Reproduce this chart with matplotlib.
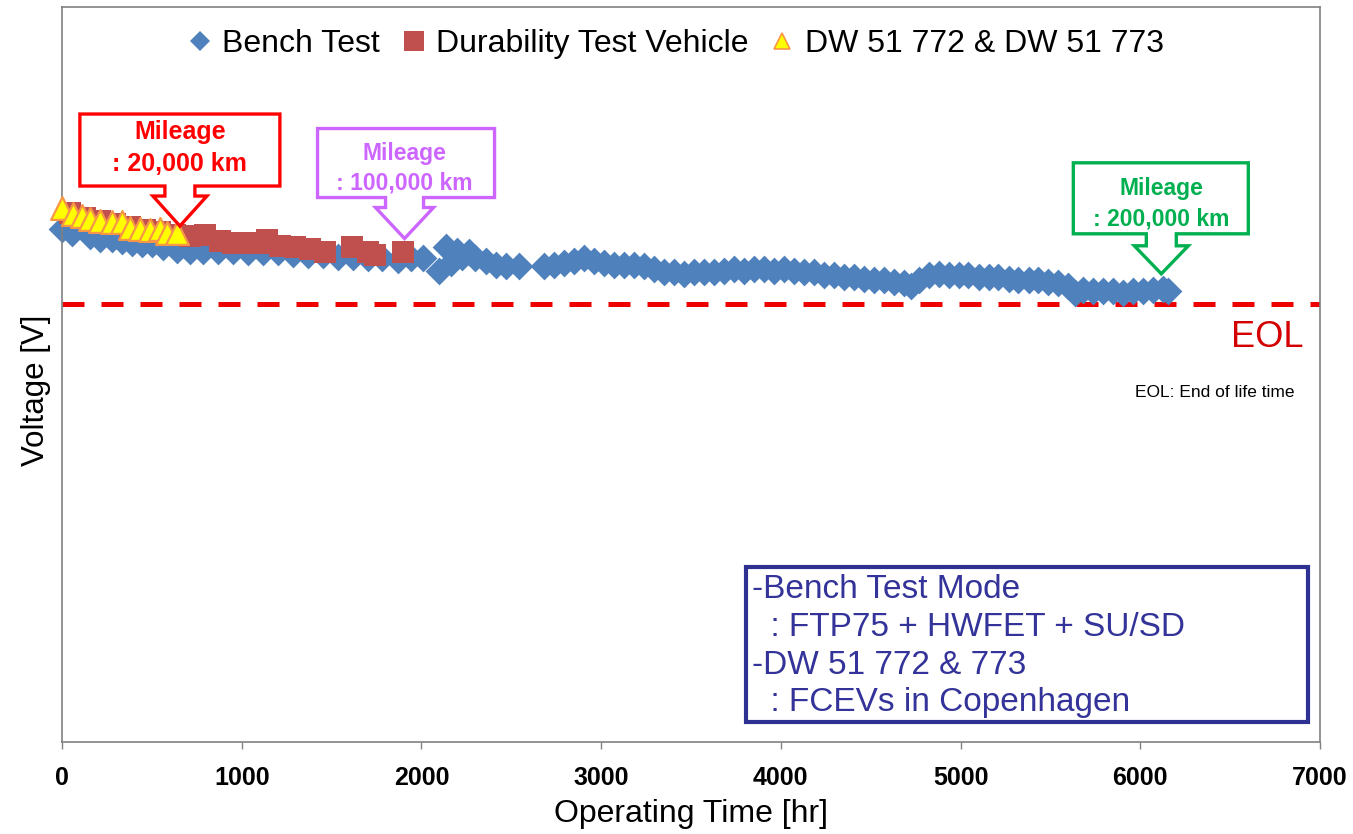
import numpy as np
import matplotlib
matplotlib.use("Agg")
import matplotlib.pyplot as plt
from matplotlib.patches import Polygon, Rectangle
from matplotlib.lines import Line2D
from matplotlib.transforms import IdentityTransform

plt.rcParams["font.family"] = ["Liberation Sans", "DejaVu Sans"]

# --- Data (operating hours, stack voltage in relative units) ---
bench_hr = [0, 56, 156, 211, 278, 333, 389, 444, 500, 561, 639, 711, 783, 867,
            950, 1033, 1117, 1200, 1283, 1367, 1450, 1533, 1617, 1700, 1783,
            1867, 1944, 2011, 2100, 2139, 2167, 2200, 2228, 2267, 2300, 2361,
            2417, 2472, 2544, 2683, 2739, 2794, 2850, 2906, 2961, 3017, 3072,
            3128, 3183, 3239, 3294, 3350, 3406, 3461, 3517, 3572, 3628, 3683,
            3739, 3794, 3850, 3906, 3961, 4017, 4072, 4128, 4183, 4239, 4294,
            4350, 4406, 4461, 4517, 4572, 4628, 4683, 4722, 4767, 4822, 4878,
            4933, 4989, 5044, 5100, 5156, 5211, 5267, 5322, 5378, 5433, 5489,
            5544, 5600, 5639, 5683, 5739, 5794, 5850, 5906, 5961, 6017, 6072,
            6128, 6156]
bench_v = [69.8, 69.3, 68.8, 68.5, 68.5, 68.2, 67.9, 67.8, 67.8, 67.4, 67.0,
           66.8, 66.8, 66.8, 66.8, 66.7, 66.7, 66.6, 66.4, 66.3, 66.2, 66.0,
           66.0, 65.9, 65.8, 65.6, 65.8, 65.8, 64.1, 67.4, 65.2, 66.8, 66.0,
           66.6, 65.8, 65.4, 64.9, 64.8, 64.8, 64.8, 64.9, 65.2, 65.5, 65.9,
           65.5, 65.2, 64.9, 64.9, 64.9, 64.7, 64.3, 64.0, 63.9, 63.7, 63.9,
           63.9, 64.0, 64.1, 64.4, 64.1, 64.3, 64.4, 64.1, 64.4, 64.1, 63.9,
           63.9, 63.6, 63.5, 63.3, 63.2, 63.0, 62.9, 62.9, 62.6, 62.4, 62.0,
           62.8, 63.6, 63.7, 63.6, 63.5, 63.6, 63.3, 63.2, 63.2, 63.0, 62.9,
           62.9, 62.8, 62.6, 62.4, 62.0, 61.1, 61.5, 61.4, 61.4, 61.3, 61.1,
           61.4, 61.4, 61.5, 61.7, 61.4]

durability_hr = [44, 128, 211, 294, 378, 461, 544, 628, 711, 794, 878, 950,
                 1022, 1100, 1139, 1211, 1294, 1378, 1461, 1611, 1700, 1739, 1900]
durability_v = [72.0, 71.3, 70.9, 70.5, 70.1, 69.7, 69.4, 69.0, 68.8, 69.0,
                68.1, 67.9, 67.9, 67.9, 68.3, 67.5, 67.3, 67.1, 66.7, 67.4,
                66.6, 66.3, 66.7]

fleet_hr = [0, 61, 111, 156, 211, 278, 333, 378, 433, 489, 544, 583, 639]
fleet_v = [72.6, 71.9, 71.6, 71.2, 70.9, 70.7, 70.7, 70.0, 69.8, 69.6, 69.8,
           69.3, 69.3]

eol_v = 59.6

# callouts: label, tip position (hr, V), colour
callout_text = [": 20,000 km", ": 100,000 km", ": 200,000 km"]
callout_hr = [656, 1906, 6117]
callout_v = [70.2, 68.5, 63.7]
callout_color = ["#FF0000", "#CC66FF", "#00B050"]

# --- Figure ---
fig = plt.figure(figsize=(13.53, 8.34), dpi=100)
ax = fig.add_axes([62 / 1353, 1 - 742 / 834, 1258 / 1353, 735 / 834])
ax.set_xlim(0, 7000)
ax.set_ylim(0, 100)

ax.axhline(eol_v, color="#EE0000", lw=3.6, dashes=(4.4, 3.4), zorder=1)

ax.scatter(bench_hr, bench_v, marker="D", s=200, color="#4F81BD",
           linewidths=0, zorder=2, clip_on=False)
ax.scatter(durability_hr, durability_v, marker="s", s=230, color="#C0504D",
           linewidths=0, zorder=3, clip_on=False)
ax.scatter(fleet_hr, fleet_v, marker="^", s=270, facecolor="#FFFF00",
           edgecolor="#F79646", linewidths=1.6, zorder=4, clip_on=False)

# --- Mileage callouts (shape drawn in pixels around the arrow tip) ---
shapes = [
    dict(box=(-100, 100, 40, 112), neck=15, flare=30, head=27, fs=18, t1=94, t2=62),
    dict(box=(-87, 90, 41, 110), neck=19, flare=31, head=29, fs=16.5, t1=85, t2=56),
    dict(box=(-88, 87, 40, 111), neck=15, flare=28, head=27, fs=16.5, t1=85, t2=55),
]
for txt, hx, hv, col, sh in zip(callout_text, callout_hr, callout_v,
                                 callout_color, shapes):
    tx, ty = ax.transData.transform((hx, hv))
    l, r, b, t = sh["box"]
    n, f, h = sh["neck"], sh["flare"], sh["head"]
    pts = [(l, t), (r, t), (r, b), (n, b), (n, f), (h, f), (0, 0),
           (-h, f), (-n, f), (-n, b), (l, b)]
    pts = [(tx + px, ty + py) for px, py in pts]
    ax.add_patch(Polygon(pts, closed=True, transform=IdentityTransform(),
                         facecolor="white", edgecolor=col, lw=2.4,
                         joinstyle="miter", zorder=5, clip_on=False))
    ax.annotate("Mileage", (hx, hv), xytext=(0, sh["t1"]),
                textcoords="offset pixels", ha="center", va="center",
                color=col, fontsize=sh["fs"], fontweight="bold", zorder=6)
    ax.annotate(txt, (hx, hv), xytext=(0, sh["t2"]),
                textcoords="offset pixels", ha="center", va="center",
                color=col, fontsize=sh["fs"], fontweight="bold", zorder=6)

# --- EOL labels ---
ax.text(0.987, 0.55, "EOL", transform=ax.transAxes, ha="right", va="center",
        color="#D40000", fontsize=26)
ax.text(0.98, 0.475, "EOL: End of life time", transform=ax.transAxes,
        ha="right", va="center", color="black", fontsize=12.5)

# --- Test mode box ---
ax.add_patch(Rectangle((0.5437, 0.0272), 0.4468, 0.2108, transform=ax.transAxes,
                       fill=False, edgecolor="#2E3192", lw=3, zorder=6))
box_lines = ["-Bench Test Mode", "  : FTP75 + HWFET + SU/SD",
             "-DW 51 772 & 773", "  : FCEVs in Copenhagen"]
for i, line in enumerate(box_lines):
    ax.text(0.5485, 0.207 - i * 0.0513, line, transform=ax.transAxes,
            ha="left", va="center", color="#333399", fontsize=24)

# --- Legend ---
handles = [
    Line2D([], [], ls="none", marker="D", ms=10, color="#4F81BD", mew=0),
    Line2D([], [], ls="none", marker="s", ms=14, color="#C0504D", mew=0),
    Line2D([], [], ls="none", marker="^", ms=12, markerfacecolor="#FFFF00",
           markeredgecolor="#F79646", mew=1.2),
]
ax.legend(handles, ["Bench Test", "Durability Test Vehicle",
                    "DW 51 772 & DW 51 773"],
          loc="center", bbox_to_anchor=(0.487, 0.9497), ncol=3, frameon=False,
          fontsize=23, handlelength=0.9, handletextpad=0.25,
          columnspacing=0.6, borderpad=0)

# --- Axes styling ---
for sp in ax.spines.values():
    sp.set_color("#808080")
    sp.set_linewidth(1.2)
ax.set_yticks([])
ax.set_xticks(np.arange(0, 7001, 1000))
ax.tick_params(axis="x", direction="out", length=5, width=1, color="#808080",
               pad=12)
for lab in ax.get_xticklabels():
    lab.set_fontweight("bold")
    lab.set_fontsize(18)

ax.set_xlabel("Operating Time [hr]", fontsize=23, labelpad=7)
ax.set_ylabel("Voltage [V]", fontsize=22.5)
ax.yaxis.set_label_coords(-0.009, 0.479)

fig.savefig("out.png", dpi=100)
